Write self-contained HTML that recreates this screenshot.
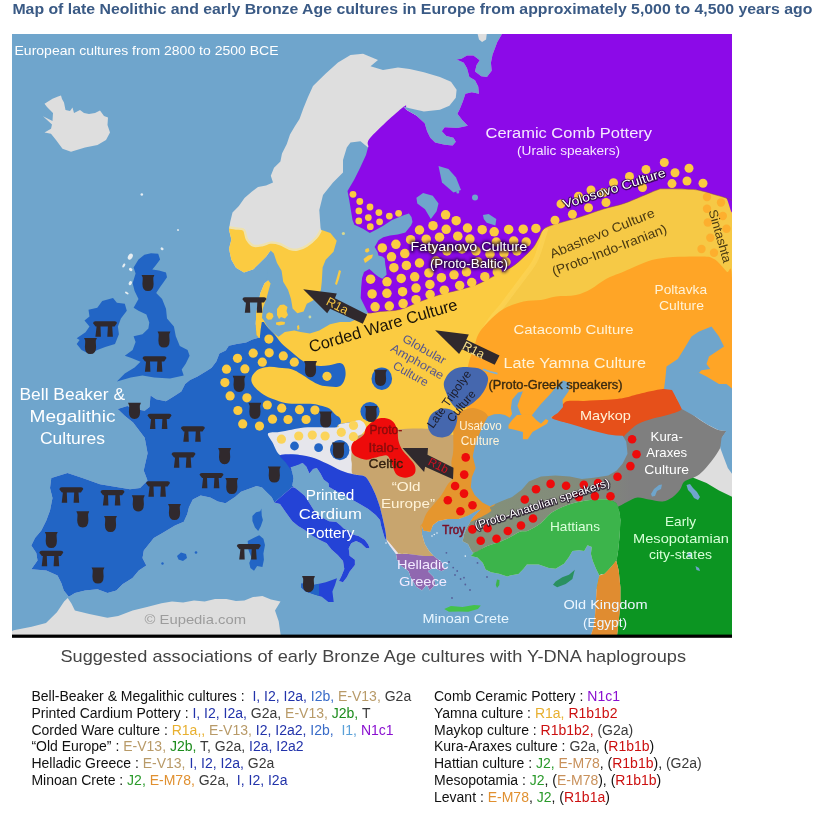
<!DOCTYPE html><html><head><meta charset="utf-8"><title>Map</title><style>html,body{margin:0;padding:0;background:#fff}body{width:832px;height:815px;position:relative;overflow:hidden}</style></head><body><svg width="832" height="815" viewBox="0 0 832 815" style="position:absolute;left:0;top:0;will-change:transform;font-family:'Liberation Sans',sans-serif">
<defs>
<clipPath id="map"><rect x="12" y="34" width="720" height="601"/></clipPath>
<clipPath id="land"><path d="M501.0,34.0 L732.0,34.0 L732.0,635.0 L591.0,635.0 L593.4,627.7 L595.1,614.3 L596.0,599.1 L596.8,587.3 L599.3,575.6 L596.0,568.8 L592.6,560.4 L590.9,553.7 L591.8,546.9 L587.5,545.3 L584.2,551.1 L579.1,550.3 L572.4,551.1 L569.0,557.0 L564.0,563.8 L555.6,568.8 L548.8,568.0 L538.7,564.6 L526.9,564.6 L523.6,568.8 L518.5,573.9 L510.1,575.6 L507.2,576.4 L499.0,573.7 L491.0,572.3 L485.6,569.6 L482.9,562.9 L477.5,557.5 L470.7,556.0 L473.4,553.4 L470.7,549.4 L468.0,544.0 L462.6,541.3 L464.0,534.5 L466.7,527.8 L473.4,517.0 L481.5,508.9 L487.0,507.5 L477.5,510.2 L468.0,515.6 L458.6,519.0 L447.8,519.0 L438.3,521.0 L433.0,525.0 L430.2,531.8 L423.5,530.5 L421.5,525.0 L422.0,534.5 L424.8,544.0 L428.9,550.7 L433.6,555.9 L441.3,561.7 L445.1,569.4 L441.3,571.3 L433.6,567.4 L427.8,571.3 L433.6,577.1 L435.5,584.8 L429.7,590.6 L426.8,584.8 L422.0,590.6 L416.2,586.7 L410.5,577.1 L408.5,571.3 L400.8,565.5 L397.0,559.7 L396.0,554.0 L390.0,546.0 L386.4,540.5 L384.6,537.7 L381.2,526.0 L380.0,520.0 L375.7,515.1 L368.3,509.0 L359.8,504.1 L353.6,500.4 L345.0,496.0 L336.0,491.0 L329.1,486.9 L328.5,483.2 L323.6,479.5 L320.5,473.4 L316.8,467.9 L313.1,469.1 L309.4,473.4 L306.4,466.7 L302.7,463.0 L296.0,465.4 L290.4,467.3 L292.3,472.2 L293.5,478.3 L292.3,485.7 L298.4,490.6 L304.5,495.5 L309.4,502.9 L313.1,509.0 L316.8,513.9 L323.0,518.0 L329.1,521.3 L336.4,521.9 L340.1,525.0 L343.8,528.6 L348.7,531.1 L353.6,534.8 L358.5,536.0 L364.7,539.7 L368.3,544.6 L369.6,548.3 L366.0,548.0 L361.0,543.3 L356.1,540.9 L351.2,543.3 L348.7,548.3 L349.6,555.8 L354.9,559.7 L354.9,565.0 L349.6,571.7 L347.0,577.0 L343.0,582.3 L339.0,581.0 L341.7,575.6 L344.3,569.0 L343.0,561.0 L337.7,555.0 L331.5,549.5 L326.6,543.3 L319.3,539.7 L310.7,534.8 L304.5,529.8 L298.4,526.2 L292.3,521.3 L286.1,512.7 L280.0,504.0 L274.3,502.4 L271.8,497.3 L266.7,492.3 L262.0,487.5 L256.4,486.0 L241.0,491.8 L235.0,497.0 L225.6,503.3 L217.9,501.4 L210.2,497.5 L200.6,495.6 L192.8,499.5 L189.0,507.2 L187.3,514.0 L183.8,521.8 L175.0,525.5 L162.5,533.0 L153.8,538.0 L143.8,550.5 L142.5,558.0 L146.3,565.5 L138.8,570.5 L132.5,578.0 L122.5,584.3 L116.3,590.5 L107.5,593.0 L97.5,589.3 L85.0,590.5 L75.0,593.0 L68.8,596.8 L63.8,590.5 L61.3,583.0 L57.5,575.5 L46.3,570.5 L31.3,569.3 L37.5,560.5 L36.3,553.0 L31.3,545.5 L35.0,538.0 L41.3,530.5 L46.3,520.5 L50.0,510.5 L52.5,498.0 L50.0,488.0 L51.3,478.0 L67.5,473.0 L82.5,478.0 L100.0,484.3 L115.0,486.8 L130.0,489.3 L140.0,488.0 L147.5,480.5 L143.7,470.6 L147.6,453.2 L144.7,437.8 L133.1,422.4 L125.0,416.0 L117.7,408.9 L127.3,406.0 L135.0,408.9 L144.7,410.8 L149.5,407.0 L150.5,395.4 L156.2,399.3 L165.9,401.2 L173.6,396.4 L181.3,391.6 L185.1,383.9 L190.0,380.0 L197.5,376.5 L207.8,370.3 L211.6,367.7 L216.3,361.4 L219.4,353.5 L225.7,350.4 L228.8,345.7 L236.7,344.1 L246.1,342.6 L252.4,339.4 L258.7,337.8 L256.3,334.7 L255.7,324.2 L256.5,311.6 L260.4,293.0 L264.4,283.4 L268.3,280.2 L270.6,250.4 L266.0,256.7 L259.7,263.0 L253.4,269.2 L244.0,272.4 L236.0,267.7 L231.4,259.8 L229.0,248.8 L231.4,239.4 L229.0,230.0 L229.3,227.5 L230.2,222.0 L232.5,212.5 L238.9,206.1 L244.5,198.1 L251.7,191.8 L258.0,187.0 L266.0,185.4 L273.0,182.5 L270.8,175.8 L274.0,167.8 L280.4,161.5 L282.0,153.5 L286.8,143.9 L290.0,134.4 L294.7,126.4 L299.5,119.0 L303.5,108.0 L308.0,97.0 L313.0,86.0 L325.5,73.8 L338.0,62.5 L350.5,55.0 L363.0,53.8 L378.0,60.0 L370.5,66.3 L383.0,70.0 L398.0,67.5 L409.6,69.1 L423.9,72.3 L439.9,77.1 L451.0,81.8 L456.6,89.8 L455.8,97.8 L449.4,105.8 L439.9,109.8 L423.9,111.4 L409.6,108.2 L403.0,106.5 L406.4,109.8 L415.9,115.3 L424.7,123.3 L427.1,131.3 L430.3,137.7 L435.1,142.5 L444.7,144.8 L452.6,145.6 L455.8,141.7 L453.4,137.7 L446.3,136.1 L441.8,131.3 L444.7,127.3 L457.4,128.1 L467.8,125.7 L462.2,120.1 L457.4,113.7 L459.8,109.0 L463.0,101.0 L465.4,93.8 L471.8,92.2 L479.0,93.8 L478.2,86.6 L475.0,80.3 L469.4,77.1 L467.0,68.3 L463.8,62.7 L456.6,59.5 L461.4,58.7 L467.0,55.5 L473.4,55.5 L479.7,60.3 L476.6,65.1 L475.0,71.5 L481.3,76.3 L486.9,77.1 L491.7,70.7 L490.9,62.7 L492.5,54.7 L497.3,42.0 L502.0,34.0Z"/></clipPath>
<linearGradient id="band" gradientUnits="userSpaceOnUse" x1="470" y1="0" x2="630" y2="0"><stop offset="0" stop-color="#84917a"/><stop offset="0.75" stop-color="#828a7a"/><stop offset="1" stop-color="#7f7f7f"/></linearGradient>
<filter id="glow" x="-10%" y="-40%" width="120%" height="180%"><feGaussianBlur stdDeviation="0.7"/></filter>
<filter id="glow2" x="-10%" y="-50%" width="120%" height="200%"><feGaussianBlur stdDeviation="1.5"/></filter>
<g id="bk"><path d="M0,0 L12.8,0 L12.4,1.2 Q11.4,2.6 11.7,4.6 L12,9 Q12,16.2 6.4,16.2 Q0.8,16.2 0.8,9 L1.1,4.6 Q1.4,2.6 0.4,1.2 Z"/></g>
<g id="dm"><path d="M0,1.9 Q0.3,0.2 2.4,0 L21.8,0 Q23.8,0.2 24,1.8 L21.6,5.2 L19.2,5.2 L19.9,15.4 L14.3,15.4 L14.9,5.2 L7.5,5.2 L7.9,15.4 L2.4,15.4 L3.6,5.2 L2.6,5.2 Z"/></g>
</defs>
<g clip-path="url(#map)">
<rect x="12" y="34" width="720" height="601" fill="#6fa5cc"/>
<path d="M501.0,34.0 L732.0,34.0 L732.0,635.0 L591.0,635.0 L593.4,627.7 L595.1,614.3 L596.0,599.1 L596.8,587.3 L599.3,575.6 L596.0,568.8 L592.6,560.4 L590.9,553.7 L591.8,546.9 L587.5,545.3 L584.2,551.1 L579.1,550.3 L572.4,551.1 L569.0,557.0 L564.0,563.8 L555.6,568.8 L548.8,568.0 L538.7,564.6 L526.9,564.6 L523.6,568.8 L518.5,573.9 L510.1,575.6 L507.2,576.4 L499.0,573.7 L491.0,572.3 L485.6,569.6 L482.9,562.9 L477.5,557.5 L470.7,556.0 L473.4,553.4 L470.7,549.4 L468.0,544.0 L462.6,541.3 L464.0,534.5 L466.7,527.8 L473.4,517.0 L481.5,508.9 L487.0,507.5 L477.5,510.2 L468.0,515.6 L458.6,519.0 L447.8,519.0 L438.3,521.0 L433.0,525.0 L430.2,531.8 L423.5,530.5 L421.5,525.0 L422.0,534.5 L424.8,544.0 L428.9,550.7 L433.6,555.9 L441.3,561.7 L445.1,569.4 L441.3,571.3 L433.6,567.4 L427.8,571.3 L433.6,577.1 L435.5,584.8 L429.7,590.6 L426.8,584.8 L422.0,590.6 L416.2,586.7 L410.5,577.1 L408.5,571.3 L400.8,565.5 L397.0,559.7 L396.0,554.0 L390.0,546.0 L386.4,540.5 L384.6,537.7 L381.2,526.0 L380.0,520.0 L375.7,515.1 L368.3,509.0 L359.8,504.1 L353.6,500.4 L345.0,496.0 L336.0,491.0 L329.1,486.9 L328.5,483.2 L323.6,479.5 L320.5,473.4 L316.8,467.9 L313.1,469.1 L309.4,473.4 L306.4,466.7 L302.7,463.0 L296.0,465.4 L290.4,467.3 L292.3,472.2 L293.5,478.3 L292.3,485.7 L298.4,490.6 L304.5,495.5 L309.4,502.9 L313.1,509.0 L316.8,513.9 L323.0,518.0 L329.1,521.3 L336.4,521.9 L340.1,525.0 L343.8,528.6 L348.7,531.1 L353.6,534.8 L358.5,536.0 L364.7,539.7 L368.3,544.6 L369.6,548.3 L366.0,548.0 L361.0,543.3 L356.1,540.9 L351.2,543.3 L348.7,548.3 L349.6,555.8 L354.9,559.7 L354.9,565.0 L349.6,571.7 L347.0,577.0 L343.0,582.3 L339.0,581.0 L341.7,575.6 L344.3,569.0 L343.0,561.0 L337.7,555.0 L331.5,549.5 L326.6,543.3 L319.3,539.7 L310.7,534.8 L304.5,529.8 L298.4,526.2 L292.3,521.3 L286.1,512.7 L280.0,504.0 L274.3,502.4 L271.8,497.3 L266.7,492.3 L262.0,487.5 L256.4,486.0 L241.0,491.8 L235.0,497.0 L225.6,503.3 L217.9,501.4 L210.2,497.5 L200.6,495.6 L192.8,499.5 L189.0,507.2 L187.3,514.0 L183.8,521.8 L175.0,525.5 L162.5,533.0 L153.8,538.0 L143.8,550.5 L142.5,558.0 L146.3,565.5 L138.8,570.5 L132.5,578.0 L122.5,584.3 L116.3,590.5 L107.5,593.0 L97.5,589.3 L85.0,590.5 L75.0,593.0 L68.8,596.8 L63.8,590.5 L61.3,583.0 L57.5,575.5 L46.3,570.5 L31.3,569.3 L37.5,560.5 L36.3,553.0 L31.3,545.5 L35.0,538.0 L41.3,530.5 L46.3,520.5 L50.0,510.5 L52.5,498.0 L50.0,488.0 L51.3,478.0 L67.5,473.0 L82.5,478.0 L100.0,484.3 L115.0,486.8 L130.0,489.3 L140.0,488.0 L147.5,480.5 L143.7,470.6 L147.6,453.2 L144.7,437.8 L133.1,422.4 L125.0,416.0 L117.7,408.9 L127.3,406.0 L135.0,408.9 L144.7,410.8 L149.5,407.0 L150.5,395.4 L156.2,399.3 L165.9,401.2 L173.6,396.4 L181.3,391.6 L185.1,383.9 L190.0,380.0 L197.5,376.5 L207.8,370.3 L211.6,367.7 L216.3,361.4 L219.4,353.5 L225.7,350.4 L228.8,345.7 L236.7,344.1 L246.1,342.6 L252.4,339.4 L258.7,337.8 L256.3,334.7 L255.7,324.2 L256.5,311.6 L260.4,293.0 L264.4,283.4 L268.3,280.2 L270.6,250.4 L266.0,256.7 L259.7,263.0 L253.4,269.2 L244.0,272.4 L236.0,267.7 L231.4,259.8 L229.0,248.8 L231.4,239.4 L229.0,230.0 L229.3,227.5 L230.2,222.0 L232.5,212.5 L238.9,206.1 L244.5,198.1 L251.7,191.8 L258.0,187.0 L266.0,185.4 L273.0,182.5 L270.8,175.8 L274.0,167.8 L280.4,161.5 L282.0,153.5 L286.8,143.9 L290.0,134.4 L294.7,126.4 L299.5,119.0 L303.5,108.0 L308.0,97.0 L313.0,86.0 L325.5,73.8 L338.0,62.5 L350.5,55.0 L363.0,53.8 L378.0,60.0 L370.5,66.3 L383.0,70.0 L398.0,67.5 L409.6,69.1 L423.9,72.3 L439.9,77.1 L451.0,81.8 L456.6,89.8 L455.8,97.8 L449.4,105.8 L439.9,109.8 L423.9,111.4 L409.6,108.2 L403.0,106.5 L406.4,109.8 L415.9,115.3 L424.7,123.3 L427.1,131.3 L430.3,137.7 L435.1,142.5 L444.7,144.8 L452.6,145.6 L455.8,141.7 L453.4,137.7 L446.3,136.1 L441.8,131.3 L444.7,127.3 L457.4,128.1 L467.8,125.7 L462.2,120.1 L457.4,113.7 L459.8,109.0 L463.0,101.0 L465.4,93.8 L471.8,92.2 L479.0,93.8 L478.2,86.6 L475.0,80.3 L469.4,77.1 L467.0,68.3 L463.8,62.7 L456.6,59.5 L461.4,58.7 L467.0,55.5 L473.4,55.5 L479.7,60.3 L476.6,65.1 L475.0,71.5 L481.3,76.3 L486.9,77.1 L491.7,70.7 L490.9,62.7 L492.5,54.7 L497.3,42.0 L502.0,34.0Z" fill="#dedede"/>
<path d="M477.4,33.0 L486.9,33.0 L486.1,39.6 L482.1,42.0 L479.0,39.6Z" fill="#dedede"/>
<path d="M12.0,636.0 L12.0,631.0 L13.6,630.3 L31.6,626.7 L46.0,623.0 L56.9,612.3 L64.1,601.5 L67.7,597.9 L71.3,603.3 L74.9,610.5 L89.3,614.1 L107.4,617.7 L118.2,615.9 L132.6,610.5 L147.0,606.9 L161.5,603.3 L172.0,601.5 L183.1,602.6 L194.0,600.5 L204.7,601.5 L215.0,599.0 L226.4,599.0 L236.0,601.0 L244.4,600.4 L253.0,597.0 L262.4,596.1 L271.0,599.5 L280.5,601.5 L275.0,610.5 L278.7,621.3 L280.5,634.0 L281.0,636.0Z" fill="#dedede"/>
<path d="M43.0,116.3 L52.5,121.0 L53.0,113.0 L47.0,107.0 L44.5,103.8 L52.5,98.8 L58.0,96.5 L61.0,95.5 L62.0,99.0 L64.0,102.5 L65.5,110.0 L70.0,111.0 L72.5,107.5 L74.0,113.0 L80.0,110.0 L84.0,113.0 L89.0,114.0 L95.0,113.0 L100.0,110.5 L104.0,116.0 L108.0,117.5 L107.5,125.0 L110.0,132.5 L106.0,140.0 L97.5,145.0 L85.0,147.5 L71.0,151.8 L62.5,148.8 L56.0,140.0 L51.0,133.8 L44.5,132.5 L51.0,128.8 L52.0,124.5Z" fill="#dedede"/>
<path d="M144.4,254.7 L151.0,253.2 L158.2,253.7 L160.1,259.6 L156.0,265.0 L152.3,269.5 L159.0,270.5 L166.0,272.4 L167.0,277.3 L163.0,283.0 L160.1,287.1 L156.2,293.0 L162.1,298.9 L166.0,308.7 L167.0,318.5 L173.9,326.4 L175.8,336.2 L179.8,346.0 L187.6,350.0 L189.6,355.8 L185.7,363.7 L181.7,369.6 L183.7,375.5 L170.0,378.4 L154.2,377.4 L142.5,375.5 L130.7,377.4 L116.9,381.4 L124.8,373.5 L134.6,367.6 L140.5,361.7 L130.7,357.8 L124.8,355.8 L132.6,350.0 L135.6,342.1 L133.6,336.2 L142.5,334.2 L148.4,328.4 L149.3,322.5 L146.4,314.6 L138.5,310.7 L133.6,307.7 L138.5,298.9 L134.6,291.1 L132.6,283.2 L135.6,273.4 L133.6,267.5 L138.5,259.6Z" fill="#2265c5"/>
<path d="M102.2,300.9 L113.0,297.9 L116.9,302.8 L124.8,303.8 L126.8,310.7 L120.9,318.5 L117.9,326.4 L118.9,334.2 L115.0,344.1 L105.2,347.0 L97.3,350.0 L89.5,353.9 L81.6,350.0 L76.7,344.1 L79.6,340.1 L76.7,338.2 L85.5,332.3 L89.5,326.4 L84.5,320.5 L89.5,316.6 L88.5,309.7 L97.3,307.7Z" fill="#2265c5"/>
<path d="M261.3,508.6 L261.8,515.9 L262.9,520.0 L260.8,526.3 L258.2,531.0 L255.0,527.4 L252.4,521.1 L252.4,515.9 L256.1,512.2 L260.3,511.2Z" fill="#2265c5"/>
<path d="M259.2,535.2 L263.4,538.8 L265.0,545.1 L263.4,553.5 L263.9,559.7 L262.4,567.0 L257.1,566.0 L254.0,570.7 L250.4,568.1 L249.3,562.9 L251.4,557.6 L248.5,550.0 L247.7,540.9 L254.0,537.8Z" fill="#2265c5"/>
<path d="M177.0,556.0 L181.0,552.5 L186.0,554.0 L187.0,558.0 L183.0,561.0 L178.5,559.5Z" fill="#2265c5"/>
<circle cx="196" cy="552.5" r="1.3" fill="#2265c5"/><circle cx="162.5" cy="563.5" r="1.2" fill="#2265c5"/>
<circle cx="141.8" cy="194.5" r="1.3" fill="#e6eef4"/>
<ellipse cx="130.3" cy="256.7" rx="2.2" ry="3.3" fill="#e6edf1" transform="rotate(30 130.3 256.7)"/>
<ellipse cx="123.8" cy="265.5" rx="1.2" ry="2.2" fill="#e6edf1" transform="rotate(30 123.8 265.5)"/>
<ellipse cx="130.7" cy="269.5" rx="1.8" ry="1.5" fill="#e6edf1" transform="rotate(30 130.7 269.5)"/>
<ellipse cx="130.3" cy="283.2" rx="1.5" ry="2.2" fill="#e6edf1" transform="rotate(30 130.3 283.2)"/>
<ellipse cx="126.8" cy="293.0" rx="2.0" ry="1.0" fill="#e6edf1" transform="rotate(30 126.8 293.0)"/>
<ellipse cx="162.1" cy="248.8" rx="1.6" ry="1.3" fill="#e6edf1" transform="rotate(30 162.1 248.8)"/>
<ellipse cx="178.0" cy="230.0" rx="1.0" ry="1.0" fill="#e6edf1" transform="rotate(30 178.0 230.0)"/>
<g clip-path="url(#land)">
<path d="M12.0,335.0 L250.0,335.0 L258.0,320.0 L264.0,319.5 L350.0,330.0 L350.0,440.0 L300.0,450.0 L300.0,487.2 L292.0,487.2 L274.3,502.4 L265.0,505.0 L250.0,520.0 L200.0,640.0 L12.0,640.0Z" fill="#2265c5"/>
<path d="M222.0,225.0 L229.3,227.3 L236.0,228.5 L244.0,230.0 L247.0,239.4 L253.4,245.7 L262.8,245.0 L270.6,242.6 L280.0,244.0 L289.5,248.8 L297.3,249.6 L306.8,245.7 L316.2,237.8 L320.9,230.0 L325.0,228.0 L345.0,232.0 L345.0,322.0 L220.0,322.0Z" fill="#fbcb41"/>
<path d="M229.3,227.3 C230.4,227.5 233.6,228.1 236.0,228.5 C238.4,228.9 242.2,228.2 244.0,230.0 C245.8,231.8 245.4,236.8 247.0,239.4 C248.6,242.0 250.8,244.8 253.4,245.7 C256.0,246.6 259.9,245.5 262.8,245.0 C265.7,244.5 267.7,242.8 270.6,242.6 C273.5,242.4 276.9,243.0 280.0,244.0 C283.1,245.0 286.6,247.9 289.5,248.8 C292.4,249.7 294.4,250.1 297.3,249.6 C300.2,249.1 303.7,247.7 306.8,245.7 C309.9,243.7 313.9,240.4 316.2,237.8 C318.5,235.2 320.1,231.3 320.9,230.0" fill="none" stroke="#efe2ad" stroke-width="2.4" stroke-linejoin="round"/>
<path d="M254,311 L260.5,311 L262.6,318 L261.6,323.3 L260.6,330.1 L259.8,338 L254,338 Z" fill="#fbcb41"/>
<path d="M263.6,320.0 C263.2,322.1 266.2,325.4 267.6,327.3 C269.0,329.2 270.6,330.0 272.0,331.5 C273.4,333.0 274.3,334.2 276.0,336.3 C277.7,338.4 279.6,341.4 282.2,344.0 C284.8,346.6 288.5,349.4 291.6,352.0 C294.7,354.6 297.9,357.7 301.0,359.8 C304.1,361.9 307.4,363.5 310.5,364.5 C313.6,365.5 316.8,365.9 319.9,366.0 C323.0,366.1 325.9,365.8 329.3,365.3 C332.7,364.8 337.5,362.7 340.0,363.0 C342.5,363.3 343.6,364.9 344.5,367.0 C345.4,369.1 345.8,372.8 345.5,375.5 C345.2,378.2 344.2,381.1 343.0,383.0 C341.8,384.9 340.3,386.2 338.0,386.8 C335.7,387.4 332.3,386.8 329.3,386.5 C326.3,386.2 323.0,386.1 319.9,385.0 C316.8,383.9 313.6,382.0 310.5,380.2 C307.4,378.4 304.1,375.8 301.0,374.0 C297.9,372.2 295.3,370.2 291.6,369.2 C287.9,368.1 282.9,368.1 279.0,367.7 C275.1,367.3 271.4,366.6 268.0,366.9 C264.6,367.1 261.3,367.8 258.7,369.2 C256.1,370.6 253.6,373.4 252.4,375.5 C251.2,377.6 251.1,379.7 251.6,381.8 C252.1,383.9 253.5,385.9 255.5,388.0 C257.5,390.1 260.5,392.6 263.4,394.4 C266.3,396.2 269.1,397.6 272.8,399.0 C276.5,400.4 281.2,402.2 285.4,403.0 C289.6,403.8 293.7,403.7 297.9,403.8 C302.1,403.9 306.8,403.5 310.5,403.8 C314.2,404.1 316.8,404.6 319.9,405.4 C323.0,406.2 326.7,406.9 329.3,408.5 C331.9,410.1 333.9,413.3 335.6,414.8 C337.3,416.3 338.6,416.4 339.5,417.5 C340.4,418.6 341.0,420.2 341.0,421.5 C341.0,422.8 340.2,424.5 339.5,425.5 C338.8,426.5 337.0,427.5 337.0,427.3 C337.0,427.1 337.2,425.0 339.4,424.2 C341.6,423.4 346.3,423.0 350.0,422.5 C353.7,422.0 358.9,418.1 361.4,421.0 C363.9,423.9 358.6,436.8 365.0,440.0 C371.4,443.2 387.5,440.0 400.0,440.0 C412.5,440.0 428.3,440.0 440.0,440.0 C451.7,440.0 460.0,456.7 470.0,440.0 C480.0,423.3 456.3,363.3 500.0,340.0 C543.7,316.7 693.3,325.0 732.0,300.0 C770.7,275.0 737.3,209.2 732.0,190.0 C726.7,170.8 713.7,185.3 700.0,185.0 C686.3,184.7 663.3,185.8 650.0,188.0 C636.7,190.2 635.0,193.0 620.0,198.0 C605.0,203.0 573.3,213.5 560.0,218.0 C546.7,222.5 545.0,220.5 540.0,225.0 C535.0,229.5 535.0,238.8 530.0,245.0 C525.0,251.2 518.3,256.5 510.0,262.0 C501.7,267.5 491.7,273.3 480.0,278.0 C468.3,282.7 453.3,285.5 440.0,290.0 C426.7,294.5 412.0,302.0 400.0,305.0 C388.0,308.0 374.7,308.0 368.0,308.0 C361.3,308.0 368.0,304.7 360.0,305.0 C352.0,305.3 331.7,307.5 320.0,310.0 C308.3,312.5 298.3,319.2 290.0,320.0 C281.7,320.8 274.4,315.0 270.0,315.0 C265.6,315.0 264.0,317.9 263.6,320.0Z" fill="#fbcb41"/>
<path d="M544.8,230.0 C540.8,237.2 539.6,250.9 536.2,258.5 C532.8,266.1 528.5,270.4 524.6,275.8 C520.7,281.2 516.9,286.1 513.0,291.2 C509.1,296.3 505.0,302.0 501.5,306.5 C498.0,311.0 495.0,313.8 491.9,318.0 C488.8,322.2 481.6,328.3 483.0,332.0 C484.4,335.7 458.5,345.3 500.0,340.0 C541.5,334.7 693.3,326.7 732.0,300.0 C770.7,273.3 760.7,194.2 732.0,180.0 C703.3,165.8 591.2,206.7 560.0,215.0 C528.8,223.3 548.8,222.8 544.8,230.0Z" fill="#f6c946"/>
<path d="M546.0,228.0 C544.4,233.1 539.8,250.5 536.2,258.5 C532.6,266.5 528.5,270.4 524.6,275.8 C520.7,281.2 516.9,286.1 513.0,291.2 C509.1,296.3 505.0,302.0 501.5,306.5 C498.0,311.0 494.8,314.1 491.9,318.0 C489.0,321.9 485.3,328.0 484.0,330.0" fill="none" stroke="#fdd558" stroke-width="5" opacity="0.6"/>
<path d="M403.0,107.2 C409.0,102.6 404.2,108.5 406.4,109.8 C408.5,111.1 412.6,113.6 415.9,115.3 C419.2,117.0 421.1,119.4 426.0,120.0 C430.9,120.6 439.5,121.8 445.0,119.0 C450.5,116.2 456.3,107.5 459.0,103.0 C461.7,98.5 461.7,96.7 461.0,92.0 C460.3,87.3 457.2,84.7 455.0,75.0 C452.8,65.3 401.5,40.8 448.0,34.0 C494.5,27.2 686.3,6.2 734.0,34.0 C781.7,61.8 735.3,173.7 734.0,201.0 C732.7,228.3 729.0,199.0 726.0,198.0 C723.0,197.0 720.3,196.2 716.0,195.0 C711.7,193.8 704.3,191.4 700.0,190.5 C695.7,189.6 696.0,189.6 690.0,189.3 C684.0,189.0 669.5,188.7 664.0,188.8 C658.5,188.9 661.0,188.6 657.0,190.0 C653.0,191.4 645.5,194.8 640.0,197.0 C634.5,199.2 630.1,201.5 624.0,203.5 C617.9,205.5 611.1,206.7 603.5,209.0 C595.9,211.3 585.8,215.2 578.5,217.5 C571.2,219.8 565.7,221.0 560.0,222.8 C554.3,224.6 548.0,225.9 544.5,228.5 C541.0,231.1 540.6,235.0 538.7,238.2 C536.8,241.4 535.6,244.6 533.0,247.8 C530.4,251.0 526.8,254.2 523.3,257.4 C519.8,260.6 516.3,264.1 511.8,267.0 C507.3,269.9 502.1,271.9 496.3,274.8 C490.5,277.7 483.4,281.8 477.0,284.4 C470.6,287.0 464.2,288.4 457.8,290.2 C451.4,292.0 444.9,293.1 438.5,295.0 C432.1,296.9 425.7,299.4 419.3,301.8 C412.9,304.2 406.4,307.9 400.0,309.5 C393.6,311.1 385.9,310.9 380.6,311.5 C375.3,312.1 372.1,313.9 368.0,313.0 C363.9,312.1 358.0,313.5 356.0,306.0 C354.0,298.5 354.5,278.2 356.0,268.0 C357.5,257.8 366.8,251.0 365.0,245.0 C363.2,239.0 349.2,239.5 345.0,232.0 C340.8,224.5 341.2,207.0 340.0,200.0 C338.8,193.0 336.0,195.8 338.0,190.0 C340.0,184.2 348.3,171.7 352.0,165.0 C355.7,158.3 357.3,152.9 360.0,150.0 C362.7,147.1 366.2,149.6 368.0,147.5 C369.8,145.4 364.7,144.2 370.5,137.5 C376.3,130.8 397.0,111.8 403.0,107.2Z" fill="#8c0ae8"/>
<path d="M734.0,201.0 C732.7,200.5 729.0,199.0 726.0,198.0 C723.0,197.0 720.3,196.2 716.0,195.0 C711.7,193.8 704.3,191.4 700.0,190.5 C695.7,189.6 696.0,189.6 690.0,189.3 C684.0,189.0 669.5,188.7 664.0,188.8 C658.5,188.9 661.0,188.6 657.0,190.0 C653.0,191.4 645.5,194.8 640.0,197.0 C634.5,199.2 630.1,201.5 624.0,203.5 C617.9,205.5 611.1,206.7 603.5,209.0 C595.9,211.3 585.8,215.2 578.5,217.5 C571.2,219.8 565.7,221.0 560.0,222.8 C554.3,224.6 548.0,225.9 544.5,228.5 C541.0,231.1 540.6,235.0 538.7,238.2 C536.8,241.4 535.6,244.6 533.0,247.8 C530.4,251.0 526.8,254.2 523.3,257.4 C519.8,260.6 516.3,264.1 511.8,267.0 C507.3,269.9 502.1,271.9 496.3,274.8 C490.5,277.7 483.4,281.8 477.0,284.4 C470.6,287.0 464.2,288.4 457.8,290.2 C451.4,292.0 444.9,293.1 438.5,295.0 C432.1,296.9 425.7,299.4 419.3,301.8 C412.9,304.2 406.4,307.9 400.0,309.5 C393.6,311.1 385.9,310.9 380.6,311.5 C375.3,312.1 370.1,312.8 368.0,313.0" fill="none" stroke="#8a5040" stroke-width="0.9" opacity="0.55"/>
<path d="M268.0,433.6 C269.0,431.8 275.1,432.6 279.0,432.0 C282.9,431.4 287.4,430.4 291.6,429.7 C295.8,428.9 299.3,427.9 304.0,427.5 C308.7,427.1 314.4,427.3 319.9,427.3 C325.4,427.3 333.8,427.8 337.0,427.3 C340.2,426.8 337.2,425.0 339.4,424.2 C341.6,423.4 346.3,423.0 350.0,422.5 C353.7,422.0 358.7,420.1 361.4,421.0 C364.1,421.9 366.2,425.5 366.0,428.0 C365.8,430.5 362.2,433.2 360.0,436.0 C357.8,438.8 354.3,441.7 353.0,445.0 C351.7,448.3 352.2,451.5 352.0,456.0 C351.8,460.5 353.7,469.6 351.8,472.0 C349.9,474.4 344.9,471.8 340.8,470.4 C336.7,469.0 332.4,465.9 327.3,463.7 C322.2,461.4 316.1,458.4 310.5,456.9 C304.9,455.3 298.8,454.7 293.7,454.4 C288.6,454.1 283.7,457.2 280.2,455.3 C276.7,453.4 274.8,446.6 272.8,443.0 C270.8,439.4 267.0,435.4 268.0,433.6Z" fill="#e6e6ec"/>
<path d="M478.5,334.0 C480.9,329.8 484.3,325.7 488.5,321.5 C492.7,317.3 497.7,312.3 503.5,309.0 C509.3,305.7 517.2,303.0 523.5,301.5 C529.8,300.0 535.6,300.8 541.0,300.0 C546.4,299.2 550.2,297.3 556.0,296.5 C561.8,295.7 570.2,296.2 576.0,295.0 C581.8,293.8 586.0,291.7 591.0,289.0 C596.0,286.3 600.5,281.9 606.0,279.0 C611.5,276.1 615.6,274.8 624.0,271.5 C632.4,268.2 644.0,261.5 656.5,259.0 C669.0,256.5 689.4,256.5 699.0,256.5 C708.6,256.5 709.4,256.5 714.0,259.0 C718.6,261.5 723.5,268.2 726.5,271.5 C729.5,274.8 731.1,258.4 732.0,279.0 C732.9,299.6 739.0,375.7 732.0,395.0 C725.0,414.3 698.7,392.2 690.0,395.0 C681.3,397.8 699.7,409.2 680.0,412.0 C660.3,414.8 592.0,406.5 572.0,412.0 C552.0,417.5 572.8,439.5 560.0,445.0 C547.2,450.5 510.0,448.3 495.0,445.0 C480.0,441.7 474.8,435.0 470.0,425.0 C465.2,415.0 466.2,395.2 466.0,385.0 C465.8,374.8 467.1,370.4 468.5,364.0 C469.9,357.6 472.6,351.5 474.3,346.5 C476.0,341.5 476.1,338.2 478.5,334.0Z" fill="#ffa526"/>
<path d="M395.0,429.5 C406.7,428.5 422.7,427.9 430.2,429.0 C437.7,430.1 435.7,434.5 440.0,436.0 C444.3,437.5 453.3,430.7 456.0,438.0 C458.7,445.3 457.0,471.8 456.0,480.0 C455.0,488.2 452.2,484.3 450.0,487.0 C447.8,489.7 445.3,492.8 443.0,496.0 C440.7,499.2 438.5,502.7 436.0,506.0 C433.5,509.3 430.0,513.0 428.0,516.0 C426.0,519.0 423.3,522.0 424.0,524.0 C424.7,526.0 431.0,524.5 432.0,528.0 C433.0,531.5 429.0,540.2 430.0,545.0 C431.0,549.8 439.0,555.2 438.0,557.0 C437.0,558.8 428.9,556.4 424.0,555.9 C419.1,555.4 413.0,554.5 408.5,554.0 C404.0,553.5 399.9,554.5 397.0,553.0 C394.1,551.5 392.7,547.2 391.0,545.0 C389.3,542.8 387.7,542.3 386.8,540.0 C385.9,537.7 386.0,534.5 385.4,531.0 C384.8,527.5 383.9,523.4 382.9,519.2 C381.9,515.0 380.9,510.3 379.5,505.8 C378.1,501.3 376.2,496.2 374.5,492.3 C372.8,488.4 371.1,484.9 369.4,482.2 C367.7,479.5 366.9,477.6 364.4,476.3 C361.9,475.0 356.4,475.3 354.3,474.6 C352.2,473.9 352.2,473.8 351.8,472.0 C351.4,470.2 351.9,466.1 351.8,463.7 C351.7,461.3 351.0,460.9 351.2,457.8 C351.4,454.7 351.5,448.8 353.0,445.0 C354.5,441.2 353.0,437.6 360.0,435.0 C367.0,432.4 383.3,430.5 395.0,429.5Z" fill="#c8a56e"/>
<path d="M386.4,539.5 L388.0,541.0 L393.0,547.0 L398.0,553.0 L396.0,555.0 L391.0,549.0 L387.0,544.0Z" fill="#e9e4ee"/>
<path d="M280.2,455.3 C281.6,454.0 288.6,454.1 293.7,454.4 C298.8,454.7 304.9,455.3 310.5,456.9 C316.1,458.4 322.2,461.4 327.3,463.7 C332.4,465.9 336.3,468.6 340.8,470.4 C345.3,472.2 350.4,473.6 354.3,474.6 C358.2,475.6 361.9,475.0 364.4,476.3 C366.9,477.6 367.7,479.5 369.4,482.2 C371.1,484.9 372.8,488.4 374.5,492.3 C376.2,496.2 378.1,501.3 379.5,505.8 C380.9,510.3 381.9,515.0 382.9,519.2 C383.9,523.4 384.8,527.6 385.4,531.0 C386.0,534.4 386.1,536.6 386.3,539.4 C386.5,542.2 388.4,547.1 386.5,548.0 C384.6,548.9 379.4,551.3 375.0,545.0 C370.6,538.7 367.5,519.2 360.0,510.0 C352.5,500.8 338.3,495.8 330.0,490.0 C321.7,484.2 314.7,479.0 310.0,475.0 C305.3,471.0 304.3,467.5 302.0,466.0 C299.7,464.5 297.7,465.3 296.0,466.0 C294.3,466.7 293.8,471.1 292.0,470.4 C290.2,469.7 287.3,464.5 285.3,462.0 C283.3,459.5 278.8,456.6 280.2,455.3Z" fill="#2443d6"/>
<path d="M292.0,487.2 L274.3,502.4 L265.0,505.0 L330.0,592.0 L375.0,592.0 L375.0,540.0 L330.0,510.0 L300.0,488.0Z" fill="#2443d6"/>
<path d="M612.0,500.0 L690.0,475.0 L694.0,478.0 L706.5,483.0 L719.0,490.5 L732.0,496.8 L732.0,636.0 L617.0,636.0 L618.7,621.0 L620.4,604.2 L620.4,587.3 L618.7,570.5 L616.2,560.4 L617.8,553.7 L619.5,536.8 L620.4,520.0 L619.0,510.5Z" fill="#0c9522"/>
<path d="M620.0,436.0 C619.8,434.3 621.1,432.7 624.0,430.0 C626.9,427.3 632.7,422.6 637.5,420.0 C642.3,417.4 647.9,416.1 653.0,414.5 C658.1,412.9 663.5,412.2 668.3,410.7 C673.1,409.2 677.3,404.5 681.8,405.5 C686.3,406.5 691.1,413.5 695.3,416.6 C699.5,419.7 703.0,422.1 706.9,424.3 C710.8,426.6 715.2,429.0 718.4,430.1 C721.6,431.2 725.5,429.7 726.1,431.0 C726.8,432.3 723.1,435.4 722.3,437.8 C721.5,440.2 722.6,442.3 721.3,445.5 C720.0,448.7 717.0,453.5 714.6,457.0 C712.2,460.5 709.5,463.8 706.9,466.7 C704.3,469.6 701.8,472.5 699.2,474.4 C696.6,476.3 694.1,477.0 691.5,478.3 C688.9,479.6 685.7,480.1 683.8,482.0 C681.9,483.9 681.8,487.2 679.9,489.8 C678.0,492.4 675.1,495.6 672.2,497.5 C669.3,499.4 666.5,501.1 662.6,501.4 C658.7,501.7 653.2,500.1 649.0,499.5 C644.8,498.9 641.0,497.2 637.5,497.5 C634.0,497.8 631.4,499.8 627.9,501.4 C624.4,503.0 618.3,506.9 616.3,507.2 C614.3,507.5 617.7,504.3 616.0,503.0 C614.3,501.7 611.0,499.7 606.0,499.3 C601.0,498.9 592.7,499.5 586.0,500.5 C579.3,501.5 571.8,503.4 566.0,505.5 C560.2,507.6 555.2,510.1 551.0,513.0 C546.8,515.9 544.8,520.1 541.0,523.0 C537.2,525.9 532.0,529.0 528.5,530.5 C525.0,532.0 523.1,530.7 520.0,531.8 C516.9,532.9 513.6,535.4 509.9,537.2 C506.2,539.0 501.8,541.0 497.7,542.6 C493.6,544.2 489.7,545.1 485.6,546.7 C481.6,548.4 478.5,552.8 473.4,552.5 C468.3,552.2 458.1,549.6 455.0,545.0 C451.9,540.4 452.5,530.5 455.0,525.0 C457.5,519.5 464.2,516.2 470.0,512.0 C475.8,507.8 481.7,505.3 490.0,500.0 C498.3,494.7 508.3,485.8 520.0,480.0 C531.7,474.2 546.7,467.5 560.0,465.0 C573.3,462.5 589.2,469.2 600.0,465.0 C610.8,460.8 621.7,444.8 625.0,440.0 C628.3,435.2 620.2,437.7 620.0,436.0Z" fill="url(#band)"/>
<path d="M619,432 L631,429 L631,445 L623,445 Z" fill="#7f7f7f"/>
<path d="M473.4,552.5 C477.7,552.0 481.6,548.4 485.6,546.7 C489.7,545.1 493.6,544.2 497.7,542.6 C501.8,541.0 506.2,539.0 509.9,537.2 C513.6,535.4 516.9,532.9 520.0,531.8 C523.1,530.7 525.0,532.0 528.5,530.5 C532.0,529.0 537.2,525.9 541.0,523.0 C544.8,520.1 546.8,515.9 551.0,513.0 C555.2,510.1 560.2,507.6 566.0,505.5 C571.8,503.4 579.3,501.5 586.0,500.5 C592.7,499.5 601.0,498.9 606.0,499.3 C611.0,499.7 613.8,501.1 616.0,503.0 C618.2,504.9 618.3,507.7 619.0,510.5 C619.7,513.3 620.3,515.6 620.4,520.0 C620.5,524.4 619.9,531.2 619.5,536.8 C619.1,542.4 618.3,549.8 617.8,553.7 C617.2,557.6 617.3,558.2 616.2,560.4 C615.1,562.6 613.1,564.9 611.1,567.1 C609.1,569.4 606.4,572.5 604.4,573.9 C602.4,575.3 601.7,572.9 599.3,575.6 C596.9,578.3 613.2,587.6 590.0,590.0 C566.8,592.4 481.7,596.7 460.0,590.0 C438.3,583.3 457.8,556.2 460.0,550.0 C462.2,543.8 469.1,553.0 473.4,552.5Z" fill="#3cb44b"/>
<path d="M599.3,575.6 L604.4,573.9 L611.1,567.1 L616.2,560.4 L618.7,570.5 L620.4,587.3 L620.4,604.2 L618.7,621.0 L617.0,636.0 L588.0,636.0 L585.0,600.0Z" fill="#e08c30"/>
<path d="M565.0,402.0 C567.0,400.6 568.8,401.0 572.0,400.8 C575.2,400.6 580.0,401.0 584.0,400.9 C588.0,400.8 592.0,400.5 596.0,400.3 C600.0,400.1 604.0,400.0 608.0,399.7 C612.0,399.4 616.3,399.1 620.0,398.5 C623.7,397.9 625.2,397.5 630.0,396.4 C634.8,395.2 643.2,392.9 649.0,391.6 C654.8,390.3 660.6,389.0 664.5,388.7 C668.4,388.4 670.1,387.8 672.2,389.6 C674.3,391.4 675.4,396.1 677.0,399.3 C678.6,402.5 683.2,406.3 681.8,408.9 C680.3,411.5 673.1,413.1 668.3,414.7 C663.5,416.3 658.1,416.9 653.0,418.5 C647.9,420.1 642.0,421.7 637.5,424.3 C633.0,426.9 628.5,432.0 626.0,434.0 C623.5,436.0 625.7,436.3 622.7,436.5 C619.8,436.7 613.9,436.3 608.3,435.3 C602.7,434.3 595.4,432.3 589.0,430.5 C582.6,428.7 575.8,426.3 569.8,424.5 C563.8,422.7 556.0,420.6 553.0,419.5 C550.0,418.4 551.3,418.8 551.8,417.7 C552.3,416.6 554.6,414.4 556.0,413.0 C557.4,411.6 558.5,411.3 560.0,409.5 C561.5,407.7 563.0,403.4 565.0,402.0Z" fill="#e6501a"/>
<path d="M455.2,415.4 C456.2,413.2 457.3,413.1 459.3,412.0 C461.3,410.9 464.4,409.6 467.0,409.0 C469.6,408.4 471.8,407.7 474.7,408.2 C477.6,408.7 481.9,410.4 484.3,412.0 C486.7,413.6 487.2,415.0 489.0,418.0 C490.8,421.0 496.5,423.0 495.0,430.0 C493.5,437.0 480.0,448.3 480.0,460.0 C480.0,471.7 493.3,492.1 495.0,500.0 C496.7,507.9 490.9,505.5 490.1,507.5 C489.3,509.5 493.4,509.6 490.0,512.0 C486.6,514.4 476.7,519.5 470.0,522.0 C463.3,524.5 455.0,525.2 450.0,527.0 C445.0,528.8 444.2,531.3 440.0,533.0 C435.8,534.7 428.2,538.0 425.0,537.0 C421.8,536.0 420.9,529.3 420.5,527.0 C420.1,524.7 421.5,525.5 422.5,523.3 C423.5,521.1 424.4,516.9 426.3,513.7 C428.2,510.5 431.4,507.2 434.0,504.0 C436.6,500.8 439.6,497.6 441.8,494.4 C444.1,491.2 445.6,487.7 447.5,484.8 C449.4,481.9 452.7,480.5 453.3,477.0 C453.9,473.5 451.4,468.1 451.4,463.6 C451.4,459.1 453.0,456.4 453.3,450.0 C453.6,443.6 453.0,430.8 453.3,425.0 C453.6,419.2 454.2,417.6 455.2,415.4Z" fill="#e5962e"/>
<path d="M368.5,425.0 C370.3,423.4 373.3,420.4 376.2,419.3 C379.1,418.2 383.0,417.8 385.9,418.3 C388.8,418.8 391.7,420.1 393.6,422.2 C395.5,424.3 396.6,427.8 397.4,430.8 C398.2,433.9 397.6,437.3 398.4,440.5 C399.2,443.7 400.5,447.2 402.3,450.1 C404.1,453.0 406.9,455.2 409.0,457.8 C411.1,460.4 413.8,462.9 414.8,465.5 C415.8,468.1 415.8,471.3 414.8,473.2 C413.8,475.1 411.2,476.5 409.0,477.1 C406.8,477.8 403.6,477.8 401.3,477.1 C399.1,476.5 397.1,475.4 395.5,473.2 C393.9,470.9 393.0,466.5 391.7,463.6 C390.4,460.7 389.4,457.2 387.8,455.9 C386.2,454.6 384.2,455.6 382.0,455.9 C379.8,456.2 376.9,457.2 374.3,457.8 C371.7,458.4 369.2,459.7 366.6,459.7 C364.0,459.7 361.1,458.8 358.9,457.8 C356.6,456.9 354.4,455.6 353.1,454.0 C351.8,452.4 351.2,450.1 351.2,448.2 C351.2,446.3 351.8,444.0 353.1,442.4 C354.4,440.8 357.1,439.8 358.9,438.5 C360.7,437.2 362.6,436.3 363.7,434.7 C364.8,433.1 364.8,430.5 365.6,428.9 C366.4,427.3 366.7,426.6 368.5,425.0Z" fill="#ee0b0b"/>
<path d="M396.0,554.0 L408.5,554.0 L424.0,555.9 L433.6,555.9 L441.3,561.7 L445.1,569.4 L441.3,571.3 L433.6,567.4 L427.8,571.3 L433.6,577.1 L435.5,584.8 L429.7,590.6 L426.8,584.8 L422.0,590.6 L416.2,586.7 L410.5,577.1 L408.5,571.3 L400.8,565.5 L397.0,559.7Z" fill="#9068b0"/>
</g>
<path d="M444.5,380.6 C445.4,378.3 447.3,374.9 449.4,372.8 C451.5,370.7 454.0,368.8 457.3,367.9 C460.6,367.0 465.2,367.0 469.1,367.2 C473.0,367.4 477.7,367.7 480.8,369.3 C483.9,370.9 486.7,374.0 487.7,376.7 C488.7,379.4 487.7,382.6 486.7,385.5 C485.7,388.4 483.8,391.7 481.8,394.3 C479.9,396.9 477.6,399.1 475.0,401.2 C472.4,403.3 469.1,405.9 466.1,407.1 C463.1,408.3 459.7,409.5 457.0,408.5 C454.3,407.5 451.8,403.5 450.0,401.0 C448.2,398.5 447.5,395.8 446.5,393.4 C445.5,391.0 444.3,388.6 444.0,386.5 C443.7,384.4 443.6,382.9 444.5,380.6Z" fill="#4567ae"/>
<path d="M427.9,422.8 C428.2,420.4 429.2,417.1 430.8,415.0 C432.4,412.9 435.2,411.1 437.7,410.0 C440.1,408.9 442.9,408.4 445.5,408.6 C448.1,408.8 451.4,409.6 453.4,411.0 C455.4,412.4 457.0,414.3 457.3,416.9 C457.6,419.5 456.5,423.8 455.3,426.7 C454.1,429.6 452.5,432.8 450.4,434.6 C448.3,436.4 445.4,437.3 442.6,437.5 C439.8,437.7 436.0,436.9 433.7,435.6 C431.4,434.3 429.8,431.8 428.8,429.7 C427.8,427.6 427.6,425.2 427.9,422.8Z" fill="#4567ae"/>
<path d="M483,369.3 L490,371.8 L497.5,373.6" stroke="#7fb2d6" stroke-width="1.6" fill="none"/>
<ellipse cx="381.8" cy="378.7" rx="10.3" ry="11.2" fill="#2265c5"/>
<ellipse cx="370.0" cy="411.6" rx="9.6" ry="9.6" fill="#2265c5"/>
<ellipse cx="339.6" cy="449.5" rx="9.5" ry="9.5" fill="#2265c5"/>
<ellipse cx="339.9" cy="450.2" rx="9.5" ry="10.0" fill="#2265c5"/>
<path d="M270.6,250.4 L273.8,253.5 L277.0,263.0 L281.6,270.8 L283.2,281.8 L288.0,289.7 L291.0,299.0 L292.6,308.5 L297.3,313.2 L303.6,311.6 L306.8,303.8 L313.0,300.6 L319.3,294.4 L320.9,289.7 L321.8,281.6 L322.6,267.5 L325.7,259.7 L333.5,251.8 L336.7,240.8 L330.4,233.0 L321.0,229.8 L320.5,227.5 L319.3,210.0 L323.0,195.0 L333.0,182.5 L343.0,172.5 L343.0,160.0 L346.8,147.5 L350.5,142.5 L360.5,141.3 L368.0,147.5 L366.0,155.0 L360.0,168.0 L354.0,180.0 L347.5,191.0 L349.2,200.0 L352.5,220.0 L354.4,224.8 L363.0,228.7 L369.8,233.0 L376.5,229.6 L383.3,225.8 L392.0,220.0 L404.2,214.9 L408.9,213.5 L411.5,217.0 L412.5,222.0 L411.0,225.5 L409.2,227.7 L405.4,232.5 L397.7,234.4 L390.0,235.4 L383.3,237.3 L378.5,240.2 L374.6,247.0 L377.5,251.7 L378.5,255.6 L382.3,256.5 L384.7,258.5 L385.2,264.2 L386.2,270.0 L386.6,274.8 L382.3,278.7 L378.5,276.7 L374.6,273.8 L371.7,271.0 L369.3,269.0 L364.0,272.0 L362.1,277.7 L361.2,287.3 L360.7,298.0 L361.8,300.5 L368.0,313.0 L360.0,318.0 L350.0,322.0 L340.0,322.0 L330.0,324.2 L319.3,330.5 L309.9,333.6 L300.5,332.0 L294.2,330.5 L284.8,332.0 L278.5,336.7 L272.0,332.0 L267.0,326.0 L263.6,320.0 L262.0,318.0 L262.8,308.5 L266.7,297.5 L269.0,289.0 L270.6,283.4 L268.3,280.2 L266.8,280.0 L268.5,256.0Z" fill="#6fa5cc"/>
<path d="M490.1,506.4 L482.4,502.6 L474.7,494.9 L470.8,487.2 L471.8,477.5 L475.6,467.9 L472.8,456.3 L474.7,447.0 L477.3,439.3 L481.0,430.0 L484.5,422.5 L488.0,416.5 L494.0,414.2 L500.0,414.0 L505.0,415.0 L509.7,417.7 L512.1,414.1 L510.9,408.1 L512.1,399.7 L518.1,392.5 L522.9,391.3 L520.5,397.3 L517.4,405.7 L520.5,413.4 L522.9,416.5 L530.5,417.0 L540.5,404.5 L550.5,393.7 L558.5,384.0 L563.0,380.4 L570.0,383.0 L568.6,391.3 L562.6,399.7 L563.0,406.9 L557.8,412.9 L551.0,417.2 L553.0,418.9 L561.0,421.5 L569.8,423.7 L579.0,426.5 L589.0,429.7 L598.0,432.0 L608.3,434.5 L616.0,435.5 L622.7,435.7 L626.3,441.7 L627.5,453.7 L622.7,463.4 L616.7,470.6 L608.3,475.4 L593.8,477.8 L581.8,479.0 L569.8,476.6 L555.4,475.4 L541.0,476.6 L528.9,481.4 L521.7,489.8 L512.1,497.0 L500.1,501.8 L491.7,505.4Z" fill="#6fa5cc"/>
<path d="M711.5,326.5 L719.0,336.5 L724.0,346.5 L716.5,351.5 L709.0,356.5 L706.5,364.0 L710.3,369.0 L701.5,370.3 L699.0,372.8 L706.5,376.5 L719.0,384.0 L726.5,384.0 L732.5,389.0 L732.5,474.3 L727.8,468.0 L724.0,458.0 L720.3,448.0 L721.5,438.0 L726.1,431.0 L718.4,430.1 L706.9,424.3 L695.3,416.6 L681.8,408.9 L677.0,399.3 L672.0,390.0 L664.0,389.0 L665.3,379.0 L666.5,366.5 L677.8,359.0 L684.0,349.0 L691.5,336.5 L699.0,331.5Z" fill="#6fa5cc"/>
<path d="M508.5,424.9 L512.1,420.1 L517.0,415.0 L531.0,414.5 L536.2,420.1 L541.0,423.7 L545.8,418.9 L548.5,420.5 L547.0,423.7 L538.6,428.5 L532.5,432.1 L527.7,439.3 L522.9,439.3 L522.9,432.1 L514.5,429.7 L508.5,428.5Z" fill="#ffa526"/>
<path d="M438.5,166.0 L448.5,169.0 L456.0,177.5 L461.0,190.0 L453.5,192.5 L442.0,182.5Z" fill="#6fa5cc"/>
<path d="M416.4,197.7 L423.1,192.9 L432.8,195.8 L438.5,203.5 L436.6,211.2 L430.8,218.9 L425.0,209.3 L417.3,203.5Z" fill="#6fa5cc"/>
<path d="M482.9,215.0 L488.6,214.1 L496.3,218.9 L495.4,225.6 L486.7,222.8 L483.8,218.9Z" fill="#6fa5cc"/>
<path d="M651.0,494.0 L654.0,489.0 L659.0,485.0 L662.0,484.5 L661.0,489.0 L657.0,491.0 L655.0,496.0 L652.0,496.5Z" fill="#6fa5cc"/>
<path d="M686.5,485.0 L690.0,484.0 L693.0,488.0 L697.0,492.0 L700.0,497.0 L698.0,500.0 L694.0,498.0 L691.0,493.0 L688.0,490.0Z" fill="#6fa5cc"/>
<path d="M687.5,553.0 L691.0,553.0 L691.0,557.0 L687.5,557.0Z" fill="#6fa5cc"/>
<path d="M695.5,566.0 L699.0,568.0 L700.0,571.0 L696.5,570.0Z" fill="#6fa5cc"/>
<circle cx="475.0" cy="197.5" r="3.0" fill="#6fa5cc"/>
<circle cx="457.8" cy="192.0" r="1.5" fill="#6fa5cc"/>
<path d="M266.5,314.0 L269.0,312.3 L272.5,313.5 L273.5,316.5 L271.5,319.5 L268.0,319.8 L266.0,317.5Z" fill="#fbcb41"/>
<path d="M277.0,309.0 L280.0,305.0 L284.0,304.5 L287.5,307.0 L286.5,311.0 L288.0,315.0 L285.0,318.5 L281.0,317.0 L279.0,319.0 L277.0,315.0Z" fill="#fbcb41"/>
<path d="M276.0,322.5 L281.0,321.5 L285.0,322.0 L284.5,324.5 L279.0,325.5 L276.0,324.5Z" fill="#fbcb41"/>
<path d="M297.0,326.0 L299.0,325.0 L299.5,329.0 L297.5,330.0Z" fill="#fbcb41"/>
<path d="M339.0,270.0 L341.0,271.0 L339.0,279.0 L336.8,285.0 L335.0,284.0 L337.0,277.0Z" fill="#fbcb41"/>
<path d="M363.5,259.0 L368.0,255.5 L373.0,254.5 L372.0,258.0 L368.0,261.0 L365.0,263.0Z" fill="#fbcb41"/>
<path d="M365.5,249.0 L368.5,248.0 L369.5,251.0 L367.0,252.8 L365.0,251.5Z" fill="#fbcb41"/>
<circle cx="343.4" cy="233.5" r="1.6" fill="#d8d890"/><circle cx="309.9" cy="317" r="1.4" fill="#c8d8a0"/>
<path d="M301.3,583.6 L313.8,584.9 L325.8,582.3 L337.0,578.3 L335.0,584.9 L332.4,591.5 L333.7,602.0 L328.4,602.0 L321.8,596.8 L313.8,594.2 L305.9,591.5 L301.3,587.5Z" fill="#2443d6"/>
<clipPath id="sic"><path d="M301.3,583.6 L313.8,584.9 L325.8,582.3 L337.0,578.3 L335.0,584.9 L332.4,591.5 L333.7,602.0 L328.4,602.0 L321.8,596.8 L313.8,594.2 L305.9,591.5 L301.3,587.5Z"/></clipPath>
<rect x="300" y="575" width="19" height="30" fill="#2265c5" clip-path="url(#sic)"/>
<path d="M444.2,608.9 L450.9,606.0 L462.5,606.9 L474.0,605.0 L480.8,605.6 L477.9,608.9 L468.3,611.8 L458.6,611.4 L449.0,611.8Z" fill="#44c24a"/>
<path d="M553.0,584.8 L557.2,587.3 L565.7,584.0 L572.4,578.9 L574.1,572.2 L574.9,569.7 L569.0,574.7 L562.3,577.2 L555.6,581.4Z" fill="#2a9060"/>
<path d="M497.0,579.5 L499.5,580.0 L499.3,585.0 L497.0,588.0 L495.8,585.0Z" fill="#3cb44b"/>
<circle cx="446.4" cy="552.8" r="0.9" fill="#55609a"/>
<circle cx="453.2" cy="567.6" r="0.9" fill="#55609a"/>
<circle cx="457.2" cy="571.0" r="0.9" fill="#55609a"/>
<circle cx="464.0" cy="577.7" r="0.9" fill="#55609a"/>
<circle cx="460.6" cy="579.0" r="0.9" fill="#55609a"/>
<circle cx="465.3" cy="584.5" r="0.9" fill="#55609a"/>
<circle cx="455.0" cy="575.0" r="0.9" fill="#55609a"/>
<circle cx="449.0" cy="562.0" r="0.9" fill="#55609a"/>
<circle cx="470.0" cy="590.0" r="0.9" fill="#55609a"/>
<circle cx="477.5" cy="562.9" r="0.9" fill="#55609a"/>
<circle cx="452.0" cy="598.0" r="0.9" fill="#55609a"/>
<circle cx="487.0" cy="577.0" r="0.9" fill="#55609a"/>
<circle cx="434.3" cy="534.5" r="0.8" fill="#e8f0f6"/>
<circle cx="437.0" cy="533.0" r="0.8" fill="#e8f0f6"/>
<circle cx="432.0" cy="536.0" r="0.8" fill="#e8f0f6"/>
<circle cx="465.3" cy="556.1" r="0.8" fill="#e8f0f6"/>
<circle cx="386.0" cy="543.0" r="0.8" fill="#e8f0f6"/>
<circle cx="268.9" cy="339.1" r="4.6" fill="#fbcb41"/>
<circle cx="253.2" cy="353.2" r="4.6" fill="#fbcb41"/>
<circle cx="269.2" cy="352.8" r="4.6" fill="#fbcb41"/>
<circle cx="283.3" cy="355.9" r="4.6" fill="#fbcb41"/>
<circle cx="237.5" cy="358.3" r="4.6" fill="#fbcb41"/>
<circle cx="262.3" cy="362.2" r="4.6" fill="#fbcb41"/>
<circle cx="294.3" cy="362.2" r="4.6" fill="#fbcb41"/>
<circle cx="226.5" cy="369.2" r="4.6" fill="#fbcb41"/>
<circle cx="244.9" cy="368.9" r="4.6" fill="#fbcb41"/>
<circle cx="327.0" cy="376.3" r="4.6" fill="#fbcb41"/>
<circle cx="224.9" cy="382.6" r="4.6" fill="#fbcb41"/>
<circle cx="230.1" cy="395.9" r="4.6" fill="#fbcb41"/>
<circle cx="246.9" cy="397.8" r="4.6" fill="#fbcb41"/>
<circle cx="267.3" cy="405.0" r="4.6" fill="#fbcb41"/>
<circle cx="281.7" cy="408.2" r="4.6" fill="#fbcb41"/>
<circle cx="299.5" cy="409.7" r="4.6" fill="#fbcb41"/>
<circle cx="314.9" cy="410.1" r="4.6" fill="#fbcb41"/>
<circle cx="237.9" cy="410.5" r="4.6" fill="#fbcb41"/>
<circle cx="272.5" cy="419.2" r="4.6" fill="#fbcb41"/>
<circle cx="288.0" cy="419.5" r="4.6" fill="#fbcb41"/>
<circle cx="306.1" cy="419.5" r="4.6" fill="#fbcb41"/>
<circle cx="242.7" cy="423.9" r="4.6" fill="#fbcb41"/>
<circle cx="259.5" cy="426.1" r="4.6" fill="#fbcb41"/>
<circle cx="281.4" cy="439.2" r="4.6" fill="#fbd45a"/>
<circle cx="298.7" cy="436.0" r="4.6" fill="#fbd45a"/>
<circle cx="312.3" cy="435.1" r="4.6" fill="#fbd45a"/>
<circle cx="325.1" cy="436.0" r="4.6" fill="#fbd45a"/>
<circle cx="341.3" cy="432.3" r="4.6" fill="#fbd45a"/>
<circle cx="353.4" cy="436.7" r="4.6" fill="#fbd45a"/>
<circle cx="353.5" cy="425.5" r="4.6" fill="#fbd45a"/>
<circle cx="294.5" cy="446.0" r="4.4" fill="#2265c5"/>
<circle cx="318.6" cy="447.7" r="4.4" fill="#2265c5"/>
<circle cx="353.0" cy="194.3" r="3.4" fill="#fbcb41"/>
<circle cx="359.8" cy="201.5" r="3.4" fill="#fbcb41"/>
<circle cx="370.0" cy="207.0" r="3.4" fill="#fbcb41"/>
<circle cx="358.9" cy="210.9" r="3.4" fill="#fbcb41"/>
<circle cx="378.9" cy="212.6" r="3.4" fill="#fbcb41"/>
<circle cx="368.3" cy="217.6" r="3.4" fill="#fbcb41"/>
<circle cx="389.3" cy="216.1" r="3.4" fill="#fbcb41"/>
<circle cx="398.6" cy="213.3" r="3.4" fill="#fbcb41"/>
<circle cx="358.8" cy="220.9" r="3.4" fill="#fbcb41"/>
<circle cx="379.6" cy="221.8" r="3.4" fill="#fbcb41"/>
<circle cx="370.3" cy="226.7" r="3.4" fill="#fbcb41"/>
<circle cx="382.3" cy="247.9" r="4.75" fill="#fbcb41"/>
<circle cx="395.9" cy="244.3" r="4.75" fill="#fbcb41"/>
<circle cx="410.6" cy="239.7" r="4.75" fill="#fbcb41"/>
<circle cx="419.5" cy="230.0" r="4.75" fill="#fbcb41"/>
<circle cx="433.0" cy="225.7" r="4.75" fill="#fbcb41"/>
<circle cx="426.2" cy="239.2" r="4.75" fill="#fbcb41"/>
<circle cx="391.5" cy="256.8" r="4.75" fill="#fbcb41"/>
<circle cx="404.8" cy="253.6" r="4.75" fill="#fbcb41"/>
<circle cx="393.9" cy="267.7" r="4.75" fill="#fbcb41"/>
<circle cx="406.4" cy="265.4" r="4.75" fill="#fbcb41"/>
<circle cx="419.5" cy="263.0" r="4.75" fill="#fbcb41"/>
<circle cx="370.6" cy="279.2" r="4.75" fill="#fbcb41"/>
<circle cx="387.0" cy="281.8" r="4.75" fill="#fbcb41"/>
<circle cx="401.2" cy="278.4" r="4.75" fill="#fbcb41"/>
<circle cx="414.7" cy="276.8" r="4.75" fill="#fbcb41"/>
<circle cx="372.1" cy="293.9" r="4.75" fill="#fbcb41"/>
<circle cx="386.9" cy="293.3" r="4.75" fill="#fbcb41"/>
<circle cx="402.6" cy="291.7" r="4.75" fill="#fbcb41"/>
<circle cx="416.0" cy="288.1" r="4.75" fill="#fbcb41"/>
<circle cx="430.1" cy="294.6" r="4.75" fill="#fbcb41"/>
<circle cx="375.1" cy="306.8" r="4.75" fill="#fbcb41"/>
<circle cx="389.3" cy="306.0" r="4.75" fill="#fbcb41"/>
<circle cx="403.1" cy="303.6" r="4.75" fill="#fbcb41"/>
<circle cx="416.0" cy="299.7" r="4.75" fill="#fbcb41"/>
<circle cx="445.6" cy="214.8" r="4.75" fill="#fbcb41"/>
<circle cx="456.2" cy="220.7" r="4.75" fill="#fbcb41"/>
<circle cx="446.2" cy="229.3" r="4.75" fill="#fbcb41"/>
<circle cx="467.5" cy="228.0" r="4.75" fill="#fbcb41"/>
<circle cx="482.2" cy="229.7" r="4.75" fill="#fbcb41"/>
<circle cx="494.2" cy="231.8" r="4.75" fill="#fbcb41"/>
<circle cx="508.7" cy="229.4" r="4.75" fill="#fbcb41"/>
<circle cx="523.2" cy="229.2" r="4.75" fill="#fbcb41"/>
<circle cx="535.9" cy="228.4" r="4.75" fill="#fbcb41"/>
<circle cx="439.5" cy="237.2" r="4.75" fill="#fbcb41"/>
<circle cx="457.8" cy="236.2" r="4.75" fill="#fbcb41"/>
<circle cx="469.9" cy="239.1" r="4.75" fill="#fbcb41"/>
<circle cx="496.3" cy="242.0" r="4.75" fill="#fbcb41"/>
<circle cx="513.7" cy="241.1" r="4.75" fill="#fbcb41"/>
<circle cx="526.2" cy="242.0" r="4.75" fill="#fbcb41"/>
<circle cx="428.9" cy="272.9" r="4.75" fill="#fbcb41"/>
<circle cx="441.4" cy="277.7" r="4.75" fill="#fbcb41"/>
<circle cx="454.0" cy="274.8" r="4.75" fill="#fbcb41"/>
<circle cx="466.5" cy="271.9" r="4.75" fill="#fbcb41"/>
<circle cx="484.8" cy="276.7" r="4.75" fill="#fbcb41"/>
<circle cx="497.3" cy="271.9" r="4.75" fill="#fbcb41"/>
<circle cx="429.9" cy="284.4" r="4.75" fill="#fbcb41"/>
<circle cx="444.3" cy="290.2" r="4.75" fill="#fbcb41"/>
<circle cx="459.7" cy="285.4" r="4.75" fill="#fbcb41"/>
<circle cx="471.7" cy="282.5" r="4.75" fill="#fbcb41"/>
<circle cx="432.5" cy="249.0" r="4.75" fill="#fbcb41"/>
<circle cx="447.0" cy="251.0" r="4.75" fill="#fbcb41"/>
<circle cx="462.0" cy="249.0" r="4.75" fill="#fbcb41"/>
<circle cx="476.0" cy="251.0" r="4.75" fill="#fbcb41"/>
<circle cx="490.0" cy="254.0" r="4.75" fill="#fbcb41"/>
<circle cx="504.0" cy="253.0" r="4.75" fill="#fbcb41"/>
<circle cx="517.0" cy="251.0" r="4.75" fill="#fbcb41"/>
<circle cx="436.0" cy="261.0" r="4.75" fill="#fbcb41"/>
<circle cx="478.0" cy="262.0" r="4.75" fill="#fbcb41"/>
<circle cx="492.0" cy="264.0" r="4.75" fill="#fbcb41"/>
<circle cx="506.0" cy="262.0" r="4.75" fill="#fbcb41"/>
<circle cx="555.0" cy="220.3" r="4.5" fill="#fbcb41"/>
<circle cx="572.4" cy="214.3" r="4.5" fill="#fbcb41"/>
<circle cx="561.0" cy="203.9" r="4.5" fill="#fbcb41"/>
<circle cx="588.5" cy="207.8" r="4.5" fill="#fbcb41"/>
<circle cx="578.5" cy="196.3" r="4.5" fill="#fbcb41"/>
<circle cx="591.0" cy="190.0" r="4.5" fill="#fbcb41"/>
<circle cx="606.0" cy="202.5" r="4.5" fill="#fbcb41"/>
<circle cx="603.5" cy="192.5" r="4.5" fill="#fbcb41"/>
<circle cx="613.5" cy="182.8" r="4.5" fill="#fbcb41"/>
<circle cx="664.3" cy="162.5" r="4.5" fill="#fbcb41"/>
<circle cx="646.0" cy="169.5" r="4.5" fill="#fbcb41"/>
<circle cx="689.0" cy="168.2" r="4.5" fill="#fbcb41"/>
<circle cx="675.0" cy="172.8" r="4.5" fill="#fbcb41"/>
<circle cx="629.5" cy="176.5" r="4.5" fill="#fbcb41"/>
<circle cx="687.0" cy="181.0" r="4.5" fill="#fbcb41"/>
<circle cx="672.0" cy="183.6" r="4.5" fill="#fbcb41"/>
<circle cx="703.0" cy="183.2" r="4.5" fill="#fbcb41"/>
<circle cx="642.5" cy="187.5" r="4.5" fill="#fbcb41"/>
<circle cx="707.0" cy="197.0" r="4.2" fill="#ffa526" opacity="0.72"/>
<circle cx="721.0" cy="202.5" r="4.2" fill="#ffa526" opacity="0.72"/>
<circle cx="707.0" cy="208.8" r="4.2" fill="#ffa526" opacity="0.72"/>
<circle cx="722.8" cy="216.0" r="4.2" fill="#ffa526" opacity="0.72"/>
<circle cx="707.8" cy="222.5" r="4.2" fill="#ffa526" opacity="0.72"/>
<circle cx="726.5" cy="228.8" r="4.2" fill="#ffa526" opacity="0.72"/>
<circle cx="710.3" cy="237.8" r="4.2" fill="#ffa526" opacity="0.72"/>
<circle cx="701.5" cy="249.0" r="4.2" fill="#ffa526" opacity="0.72"/>
<circle cx="714.0" cy="252.8" r="4.2" fill="#ffa526" opacity="0.72"/>
<circle cx="465.7" cy="457.4" r="4.3" fill="#ee0b0b"/>
<circle cx="464.2" cy="474.6" r="4.3" fill="#ee0b0b"/>
<circle cx="455.1" cy="486.0" r="4.3" fill="#ee0b0b"/>
<circle cx="464.0" cy="493.6" r="4.3" fill="#ee0b0b"/>
<circle cx="447.8" cy="500.2" r="4.3" fill="#ee0b0b"/>
<circle cx="472.5" cy="505.2" r="4.3" fill="#ee0b0b"/>
<circle cx="460.4" cy="511.3" r="4.3" fill="#ee0b0b"/>
<circle cx="472.4" cy="529.4" r="4.3" fill="#ee0b0b"/>
<circle cx="487.5" cy="528.3" r="4.3" fill="#ee0b0b"/>
<circle cx="480.7" cy="540.8" r="4.3" fill="#ee0b0b"/>
<circle cx="496.5" cy="538.8" r="4.3" fill="#ee0b0b"/>
<circle cx="507.8" cy="531.0" r="4.3" fill="#ee0b0b"/>
<circle cx="521.0" cy="525.5" r="4.3" fill="#ee0b0b"/>
<circle cx="533.0" cy="518.5" r="4.3" fill="#ee0b0b"/>
<circle cx="524.8" cy="499.5" r="4.3" fill="#ee0b0b"/>
<circle cx="536.0" cy="489.2" r="4.3" fill="#ee0b0b"/>
<circle cx="550.6" cy="483.9" r="4.3" fill="#ee0b0b"/>
<circle cx="566.1" cy="485.8" r="4.3" fill="#ee0b0b"/>
<circle cx="583.8" cy="484.8" r="4.3" fill="#ee0b0b"/>
<circle cx="578.6" cy="497.0" r="4.3" fill="#ee0b0b"/>
<circle cx="594.9" cy="496.1" r="4.3" fill="#ee0b0b"/>
<circle cx="610.5" cy="496.3" r="4.3" fill="#ee0b0b"/>
<circle cx="617.5" cy="476.8" r="4.3" fill="#ee0b0b"/>
<circle cx="598.0" cy="483.0" r="4.3" fill="#ee0b0b"/>
<circle cx="632.1" cy="439.2" r="4.3" fill="#ee0b0b"/>
<circle cx="636.5" cy="454.2" r="4.3" fill="#ee0b0b"/>
<circle cx="630.4" cy="466.1" r="4.3" fill="#ee0b0b"/>
<use href="#bk" x="141.6" y="274.9" fill="#30292d"/>
<use href="#bk" x="84.1" y="337.9" fill="#30292d"/>
<use href="#bk" x="157.6" y="331.4" fill="#30292d"/>
<use href="#bk" x="128.1" y="402.7" fill="#30292d"/>
<use href="#bk" x="232.7" y="375.8" fill="#30292d"/>
<use href="#bk" x="248.5" y="402.7" fill="#30292d"/>
<use href="#bk" x="218.2" y="448.0" fill="#30292d"/>
<use href="#bk" x="225.4" y="477.9" fill="#30292d"/>
<use href="#bk" x="131.9" y="495.2" fill="#30292d"/>
<use href="#bk" x="168.1" y="503.9" fill="#30292d"/>
<use href="#bk" x="76.4" y="511.2" fill="#30292d"/>
<use href="#bk" x="104.1" y="515.9" fill="#30292d"/>
<use href="#bk" x="44.9" y="531.9" fill="#30292d"/>
<use href="#bk" x="91.6" y="567.4" fill="#30292d"/>
<use href="#bk" x="304.1" y="361.1" fill="#30292d"/>
<use href="#bk" x="319.3" y="411.4" fill="#30292d"/>
<use href="#bk" x="332.1" y="442.4" fill="#30292d"/>
<use href="#bk" x="374.1" y="369.8" fill="#30292d"/>
<use href="#bk" x="364.7" y="405.9" fill="#30292d"/>
<use href="#bk" x="267.9" y="466.4" fill="#30292d"/>
<use href="#bk" x="302.1" y="576.1" fill="#30292d"/>
<use href="#dm" x="242.4" y="297.3" fill="#30292d"/>
<use href="#dm" x="93.0" y="321.3" fill="#30292d"/>
<use href="#dm" x="142.5" y="356.3" fill="#30292d"/>
<use href="#dm" x="147.5" y="413.7" fill="#30292d"/>
<use href="#dm" x="180.9" y="426.3" fill="#30292d"/>
<use href="#dm" x="171.5" y="452.3" fill="#30292d"/>
<use href="#dm" x="199.5" y="472.9" fill="#30292d"/>
<use href="#dm" x="146.0" y="481.3" fill="#30292d"/>
<use href="#dm" x="59.3" y="487.3" fill="#30292d"/>
<use href="#dm" x="100.5" y="490.1" fill="#30292d"/>
<use href="#dm" x="39.3" y="550.8" fill="#30292d"/>
<use href="#dm" x="236.8" y="544.0" fill="#30292d"/>
<path d="M303.2,289.3 L336.8,293.5 L334.9,298.3 L367.1,314.6 L362.8,323.8 L330.1,308.8 L327.2,313.2Z" fill="#30292d"/>
<path d="M435.1,330.3 L468.8,334.6 L466.3,339.7 L499.5,355.6 L494.7,364.7 L462.0,349.3 L459.1,354.1Z" fill="#30292d"/>
<path d="M402.5,448.0 L428.0,448.0 L427.5,454.7 L453.5,467.7 L453.0,479.2 L425.1,466.7 L424.1,472.0Z" fill="#30292d"/>
<text x="14.5" y="55.0" font-size="13.0" fill="#ffffff" textLength="264.0" lengthAdjust="spacingAndGlyphs">European cultures from 2800 to 2500 BCE</text>
<text x="485.5" y="138.0" font-size="15.5" fill="#f6e8ff" textLength="166.5" lengthAdjust="spacingAndGlyphs">Ceramic Comb Pottery</text>
<text x="517.0" y="155.0" font-size="12.5" fill="#f6e8ff" textLength="103.0" lengthAdjust="spacingAndGlyphs">(Uralic speakers)</text>
<text x="564.5" y="208.5" font-size="12.5" fill="#14001e" stroke="#14001e" stroke-width="1.7" stroke-linejoin="round" filter="url(#glow)" opacity="0.85" textLength="107.0" lengthAdjust="spacingAndGlyphs" transform="rotate(-17.6 564.5 208.5)">Volosovo Culture</text>
<text x="564.5" y="208.5" font-size="12.5" fill="#ffffff" textLength="107.0" lengthAdjust="spacingAndGlyphs" transform="rotate(-17.6 564.5 208.5)">Volosovo Culture</text>
<text x="552.0" y="258.5" font-size="13.0" fill="#4a3a12" textLength="112.0" lengthAdjust="spacingAndGlyphs" transform="rotate(-22.2 552.0 258.5)">Abashevo Culture</text>
<text x="554.0" y="276.0" font-size="13.0" fill="#4a3a12" textLength="122.0" lengthAdjust="spacingAndGlyphs" transform="rotate(-21.0 554.0 276.0)">(Proto-Indo-Iranian)</text>
<text x="708.5" y="211.0" font-size="12.5" fill="#4a3a12" textLength="54.6" lengthAdjust="spacingAndGlyphs" transform="rotate(74.0 708.5 211.0)">Sintashta</text>
<text x="410.6" y="250.7" font-size="13.0" fill="#1a0030" stroke="#1a0030" stroke-width="3.0" stroke-linejoin="round" filter="url(#glow2)" opacity="0.80" textLength="116.6" lengthAdjust="spacingAndGlyphs">Fatyanovo Culture</text>
<text x="410.6" y="250.7" font-size="13.0" fill="#ffffff" textLength="116.6" lengthAdjust="spacingAndGlyphs">Fatyanovo Culture</text>
<text x="429.9" y="268.0" font-size="13.0" fill="#1a0030" stroke="#1a0030" stroke-width="3.0" stroke-linejoin="round" filter="url(#glow2)" opacity="0.80" textLength="78.0" lengthAdjust="spacingAndGlyphs">(Proto-Baltic)</text>
<text x="429.9" y="268.0" font-size="13.0" fill="#ffffff" textLength="78.0" lengthAdjust="spacingAndGlyphs">(Proto-Baltic)</text>
<text x="310.8" y="352.6" font-size="16.5" fill="#1a1408" textLength="154.0" lengthAdjust="spacingAndGlyphs" transform="rotate(-16.3 310.8 352.6)">Corded Ware Culture</text>
<text x="401.4" y="341.0" font-size="12.0" fill="#55558e" textLength="48.0" lengthAdjust="spacingAndGlyphs" transform="rotate(29.5 401.4 341.0)">Globular</text>
<text x="389.7" y="350.6" font-size="12.0" fill="#55558e" textLength="59.0" lengthAdjust="spacingAndGlyphs" transform="rotate(29.5 389.7 350.6)">Amphorae</text>
<text x="392.0" y="367.9" font-size="12.0" fill="#55558e" textLength="38.5" lengthAdjust="spacingAndGlyphs" transform="rotate(29.5 392.0 367.9)">Culture</text>
<text x="513.5" y="334.0" font-size="13.0" fill="#fff3d8" textLength="120.0" lengthAdjust="spacingAndGlyphs">Catacomb Culture</text>
<text x="503.5" y="367.5" font-size="15.5" fill="#fff3d8" textLength="142.5" lengthAdjust="spacingAndGlyphs">Late Yamna Culture</text>
<text x="488.5" y="389.0" font-size="12.0" fill="#3a2a10" textLength="134.0" lengthAdjust="spacingAndGlyphs" stroke="#3a2a10" stroke-width="0.35">(Proto-Greek speakers)</text>
<text x="654.5" y="294.0" font-size="13.5" fill="#fff3d8" textLength="52.5" lengthAdjust="spacingAndGlyphs">Poltavka</text>
<text x="659.0" y="310.0" font-size="13.5" fill="#fff3d8" textLength="45.0" lengthAdjust="spacingAndGlyphs">Culture</text>
<text x="580.0" y="419.5" font-size="13.5" fill="#fff3d8" textLength="50.8" lengthAdjust="spacingAndGlyphs">Maykop</text>
<text x="650.6" y="440.7" font-size="13.5" fill="#ffffff" textLength="32.2" lengthAdjust="spacingAndGlyphs">Kura-</text>
<text x="646.2" y="457.0" font-size="13.5" fill="#ffffff" textLength="41.0" lengthAdjust="spacingAndGlyphs">Araxes</text>
<text x="644.3" y="473.8" font-size="13.5" fill="#ffffff" textLength="44.7" lengthAdjust="spacingAndGlyphs">Culture</text>
<text x="459.3" y="430.3" font-size="12.0" fill="#fff3d8" textLength="42.4" lengthAdjust="spacingAndGlyphs">Usatovo</text>
<text x="460.8" y="444.8" font-size="12.0" fill="#fff3d8" textLength="38.5" lengthAdjust="spacingAndGlyphs">Culture</text>
<text x="433.0" y="429.0" font-size="12.0" fill="#1c1c28" textLength="67.3" lengthAdjust="spacingAndGlyphs" transform="rotate(-54.8 433.0 429.0)">Late Tripolye</text>
<text x="452.5" y="423.0" font-size="12.0" fill="#1c1c28" textLength="37.3" lengthAdjust="spacingAndGlyphs" transform="rotate(-50.4 452.5 423.0)">Culture</text>
<text x="369.5" y="433.7" font-size="12.5" fill="#8a0c0c" textLength="32.8" lengthAdjust="spacingAndGlyphs" stroke="#8a0c0c" stroke-width="0.4">Proto-</text>
<text x="368.5" y="452.0" font-size="12.5" fill="#8a0c0c" textLength="29.9" lengthAdjust="spacingAndGlyphs" stroke="#8a0c0c" stroke-width="0.4">Italo-</text>
<text x="368.5" y="468.4" font-size="12.5" fill="#33200f" textLength="34.7" lengthAdjust="spacingAndGlyphs" stroke="#33200f" stroke-width="0.35">Celtic</text>
<text x="391.7" y="490.6" font-size="13.0" fill="#fff3d8" textLength="28.9" lengthAdjust="spacingAndGlyphs">“Old</text>
<text x="381.0" y="508.0" font-size="13.0" fill="#fff3d8" textLength="54.0" lengthAdjust="spacingAndGlyphs">Europe”</text>
<text x="305.8" y="499.9" font-size="14.0" fill="#ffffff" textLength="48.5" lengthAdjust="spacingAndGlyphs">Printed</text>
<text x="298.7" y="519.2" font-size="14.0" fill="#ffffff" textLength="63.2" lengthAdjust="spacingAndGlyphs">Cardium</text>
<text x="305.8" y="537.7" font-size="14.0" fill="#ffffff" textLength="48.5" lengthAdjust="spacingAndGlyphs">Pottery</text>
<text x="19.5" y="399.5" font-size="17.0" fill="#ffffff" textLength="105.5" lengthAdjust="spacingAndGlyphs">Bell Beaker &amp;</text>
<text x="29.5" y="421.5" font-size="17.0" fill="#ffffff" textLength="86.0" lengthAdjust="spacingAndGlyphs">Megalithic</text>
<text x="40.0" y="443.5" font-size="17.0" fill="#ffffff" textLength="65.0" lengthAdjust="spacingAndGlyphs">Cultures</text>
<text x="397.0" y="569.4" font-size="13.0" fill="#f2eaff" textLength="51.6" lengthAdjust="spacingAndGlyphs">Helladic</text>
<text x="398.9" y="585.7" font-size="13.0" fill="#f2eaff" textLength="48.1" lengthAdjust="spacingAndGlyphs">Greece</text>
<text x="422.4" y="623.3" font-size="13.5" fill="#e8f6ff" textLength="86.7" lengthAdjust="spacingAndGlyphs">Minoan Crete</text>
<text x="442.3" y="534.0" font-size="12.5" fill="#7a1028" textLength="22.6" lengthAdjust="spacingAndGlyphs" stroke="#7a1028" stroke-width="0.55">Troy</text>
<text x="476.0" y="529.5" font-size="11.5" fill="#14001e" stroke="#14001e" stroke-width="1.7" stroke-linejoin="round" filter="url(#glow)" opacity="0.85" textLength="141.4" lengthAdjust="spacingAndGlyphs" transform="rotate(-18.0 476.0 529.5)">(Proto-Anatolian speakers)</text>
<text x="476.0" y="529.5" font-size="11.5" fill="#ffffff" textLength="141.4" lengthAdjust="spacingAndGlyphs" transform="rotate(-18.0 476.0 529.5)">(Proto-Anatolian speakers)</text>
<text x="550.0" y="530.5" font-size="13.0" fill="#dcffdc" textLength="50.0" lengthAdjust="spacingAndGlyphs">Hattians</text>
<text x="665.0" y="525.5" font-size="13.5" fill="#d8ffd8" textLength="31.0" lengthAdjust="spacingAndGlyphs">Early</text>
<text x="633.0" y="542.5" font-size="13.5" fill="#d8ffd8" textLength="96.0" lengthAdjust="spacingAndGlyphs">Mesopotamian</text>
<text x="649.0" y="558.8" font-size="13.5" fill="#d8ffd8" textLength="63.0" lengthAdjust="spacingAndGlyphs">city-states</text>
<text x="563.5" y="609.0" font-size="13.5" fill="#ecf6ff" textLength="84.0" lengthAdjust="spacingAndGlyphs">Old Kingdom</text>
<text x="583.0" y="627.0" font-size="13.5" fill="#ecf6ff" textLength="44.0" lengthAdjust="spacingAndGlyphs">(Egypt)</text>
<text x="144.5" y="624.0" font-size="13.0" fill="#9c9c9c" textLength="101.5" lengthAdjust="spacingAndGlyphs">© Eupedia.com</text>
<text x="325.2" y="304.3" font-size="12.5" fill="#f5c542" textLength="23.0" lengthAdjust="spacingAndGlyphs" transform="rotate(27.0 325.2 304.3)">R1a</text>
<text x="461.4" y="348.6" font-size="12.5" fill="#f7e08a" textLength="23.0" lengthAdjust="spacingAndGlyphs" transform="rotate(27.0 461.4 348.6)">R1a</text>
<text x="427.2" y="464.2" font-size="11.5" fill="#d01020" textLength="21.0" lengthAdjust="spacingAndGlyphs" transform="rotate(27.0 427.2 464.2)">R1b</text>
</g>
<rect x="12" y="634.6" width="720" height="3.2" fill="#000"/>
<text x="12.4" y="13.8" font-size="14.6" fill="#3a5a85" textLength="800.0" lengthAdjust="spacingAndGlyphs" font-weight="bold">Map of late Neolithic and early Bronze Age cultures in Europe from approximately 5,000 to 4,500 years ago</text>
<text x="60.4" y="662.0" font-size="17.0" fill="#444" textLength="625.6" lengthAdjust="spacingAndGlyphs">Suggested associations of early Bronze Age cultures with Y-DNA haplogroups</text>
<text x="31.4" y="701.2" font-size="14" xml:space="preserve"><tspan fill="#111">Bell-Beaker &amp; Megalithic cultures :  </tspan><tspan fill="#2233aa">I, I2, I2a, </tspan><tspan fill="#3a6cc8">I2b, </tspan><tspan fill="#b89a68">E-V13, </tspan><tspan fill="#3a3a3a">G2a</tspan></text>
<text x="31.4" y="717.9" font-size="14" xml:space="preserve"><tspan fill="#111">Printed Cardium Pottery : </tspan><tspan fill="#2233aa">I, I2, I2a, </tspan><tspan fill="#3a3a3a">G2a, </tspan><tspan fill="#b89a68">E-V13, </tspan><tspan fill="#1c8c1c">J2b, </tspan><tspan fill="#3a3a3a">T</tspan></text>
<text x="31.4" y="734.6" font-size="14" xml:space="preserve"><tspan fill="#111">Corded Ware culture : </tspan><tspan fill="#e8b030">R1a,, </tspan><tspan fill="#b89a68">E-V13, </tspan><tspan fill="#2233aa">I2, I2a2, </tspan><tspan fill="#3a6cc8">I2b,  </tspan><tspan fill="#5aa0d8">I1, </tspan><tspan fill="#8a10d0">N1c1</tspan></text>
<text x="31.4" y="751.4" font-size="14" xml:space="preserve"><tspan fill="#111">“Old Europe” : </tspan><tspan fill="#b89a68">E-V13, </tspan><tspan fill="#1c8c1c">J2b, </tspan><tspan fill="#3a3a3a">T, G2a, </tspan><tspan fill="#2233aa">I2a, I2a2</tspan></text>
<text x="31.4" y="768.1" font-size="14" xml:space="preserve"><tspan fill="#111">Helladic Greece : </tspan><tspan fill="#b89a68">E-V13, </tspan><tspan fill="#2233aa">I, I2, I2a, </tspan><tspan fill="#3a3a3a">G2a</tspan></text>
<text x="31.4" y="784.8" font-size="14" xml:space="preserve"><tspan fill="#111">Minoan Crete : </tspan><tspan fill="#2a9a2a">J2, </tspan><tspan fill="#e09030">E-M78, </tspan><tspan fill="#3a3a3a">G2a,  </tspan><tspan fill="#2233aa">I, I2, I2a</tspan></text>
<text x="434.0" y="701.2" font-size="14" xml:space="preserve"><tspan fill="#111">Comb Ceramic Pottery : </tspan><tspan fill="#8a10d0">N1c1</tspan></text>
<text x="434.0" y="717.9" font-size="14" xml:space="preserve"><tspan fill="#111">Yamna culture : </tspan><tspan fill="#e8b030">R1a, </tspan><tspan fill="#cc1010">R1b1b2</tspan></text>
<text x="434.0" y="734.6" font-size="14" xml:space="preserve"><tspan fill="#111">Maykop culture : </tspan><tspan fill="#cc1010">R1b1b2, </tspan><tspan fill="#3a3a3a">(G2a)</tspan></text>
<text x="434.0" y="751.4" font-size="14" xml:space="preserve"><tspan fill="#111">Kura-Araxes culture : </tspan><tspan fill="#3a3a3a">G2a, </tspan><tspan fill="#111">(</tspan><tspan fill="#cc1010">R1b1b</tspan><tspan fill="#111">)</tspan></text>
<text x="434.0" y="768.1" font-size="14" xml:space="preserve"><tspan fill="#111">Hattian culture : </tspan><tspan fill="#2a9a2a">J2, </tspan><tspan fill="#c8905a">E-M78</tspan><tspan fill="#111">, (</tspan><tspan fill="#cc1010">R1b1b</tspan><tspan fill="#111">), </tspan><tspan fill="#3a3a3a">(G2a)</tspan></text>
<text x="434.0" y="784.8" font-size="14" xml:space="preserve"><tspan fill="#111">Mesopotamia : </tspan><tspan fill="#2a9a2a">J2</tspan><tspan fill="#111">, (</tspan><tspan fill="#c8905a">E-M78</tspan><tspan fill="#111">), (</tspan><tspan fill="#cc1010">R1b1b</tspan><tspan fill="#111">)</tspan></text>
<text x="434.0" y="801.5" font-size="14" xml:space="preserve"><tspan fill="#111">Levant : </tspan><tspan fill="#e09030">E-M78</tspan><tspan fill="#111">, </tspan><tspan fill="#2a9a2a">J2</tspan><tspan fill="#111">, (</tspan><tspan fill="#cc1010">R1b1a</tspan><tspan fill="#111">)</tspan></text>
</svg></body></html>
